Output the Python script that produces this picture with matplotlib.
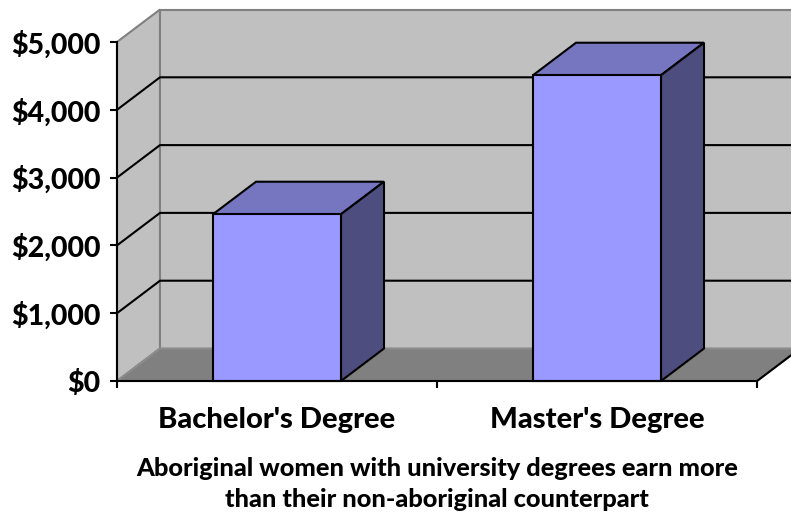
import matplotlib.pyplot as plt
from matplotlib.patches import Polygon

categories = ["Bachelor's Degree", "Master's Degree"]
earnings = [2460, 4510]
yticks = [0, 1000, 2000, 3000, 4000, 5000]
title = "Aboriginal women with university degrees earn more\nthan their non-aboriginal counterpart"

W, H = 791, 523
plt.rcParams['font.family'] = ['Lato', 'DejaVu Sans']
fig = plt.figure(figsize=(W / 100, H / 100), dpi=100)
ax = fig.add_axes([117 / W, 142 / H, 640 / W, 339 / H])
ax.set_xlim(0, len(categories))
ax.set_ylim(0, yticks[-1])
ax.patch.set_visible(False)

# 3d depth offset in data units
dx = 43 / 320 * 1
dy = 32.5 / 339 * yticks[-1]
ymax = yticks[-1]
n = len(categories)

wall = '#c0c0c0'
edge = '#808080'
# side wall
ax.add_patch(Polygon([(0, 0), (0, ymax), (dx, ymax + dy), (dx, dy)], closed=True,
                     fc=wall, ec=edge, lw=1.5, clip_on=False, zorder=0))
# back wall
ax.add_patch(Polygon([(dx, dy), (dx, ymax + dy), (n + dx, ymax + dy), (n + dx, dy)], closed=True,
                     fc=wall, ec=edge, lw=1.5, clip_on=False, zorder=0))
# floor
ax.add_patch(Polygon([(0, 0), (n, 0), (n + dx, dy), (dx, dy)], closed=True,
                     fc='#808080', ec='#8c8c8c', lw=1.5, clip_on=False, zorder=0.5))
ax.plot([n, n + dx], [0, dy], color='black', lw=1.5, clip_on=False, zorder=0.6)

# gridlines
for v in yticks[1:-1]:
    ax.plot([0, dx, n + dx], [v, v + dy, v + dy], color='black', lw=1.5,
            clip_on=False, zorder=0.7)

# bars
bw = 0.4
for i, v in enumerate(earnings):
    c = i + 0.5
    x0, x1 = c - bw / 2, c + bw / 2
    ax.add_patch(Polygon([(x0, v), (x1, v), (x1 + dx, v + dy), (x0 + dx, v + dy)], closed=True,
                         fc='#7575c0', ec='black', lw=1.5, clip_on=False, zorder=2))
    ax.add_patch(Polygon([(x1, 0), (x1 + dx, dy), (x1 + dx, v + dy), (x1, v)], closed=True,
                         fc='#4d4d80', ec='black', lw=1.5, clip_on=False, zorder=2))
    ax.add_patch(Polygon([(x0, 0), (x1, 0), (x1, v), (x0, v)], closed=True,
                         fc='#9999ff', ec='black', lw=1.5, clip_on=False, zorder=2))

for s in ['top', 'right']:
    ax.spines[s].set_visible(False)
for s in ['left', 'bottom']:
    ax.spines[s].set_linewidth(1.5)
    ax.spines[s].set_zorder(3)

ax.set_yticks(yticks)
ax.set_yticklabels([r'\$' + f'{v:,}' for v in yticks], fontsize=20.5, fontweight='black')
ax.tick_params(axis='y', length=5, width=1.5, pad=7)
ax.set_xticks(range(n + 1))
ax.set_xticklabels([])
ax.tick_params(axis='x', which='major', length=5, width=1.5)
ax.set_xticks([i + 0.5 for i in range(n)], minor=True)
ax.set_xticklabels(categories, minor=True, fontsize=21, fontweight='black')
ax.tick_params(axis='x', which='minor', length=0, pad=19)

ax.set_xlabel(title, fontsize=18.3, fontweight='black', labelpad=17, linespacing=1.42)

fig.savefig('out.png', dpi=100)
